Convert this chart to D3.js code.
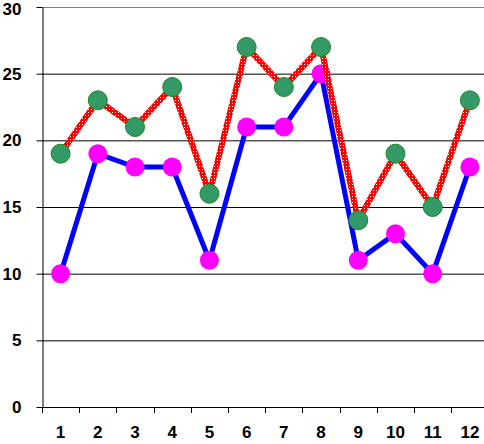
<!DOCTYPE html>
<html>
<head>
<meta charset="utf-8">
<script src="https://cdn.jsdelivr.net/npm/d3@7"></script>
<style>
	body { margin: 0; background: #fff; }
	svg { display: block; }
	.tick text { font-family: 'Liberation Sans', Arial, sans-serif; font-weight: bold; font-size: 17px; }
</style>
</head>
<body>
<div id="chart"></div>
<script>
const months = [1, 2, 3, 4, 5, 6, 7, 8, 9, 10, 11, 12]
const greenSeries = [19, 23, 21, 24, 16, 27, 24, 27, 14, 19, 15, 23]
const pinkSeries = [10, 19, 18, 18, 11, 21, 21, 25, 11, 13, 10, 18]
const yTicks = [0, 5, 10, 15, 20, 25, 30]

const width = 484
const height = 444
const plotLeft = 42
const plotTop = 7
const plotBottom = 407
const plotRight = 488.5

const svg = d3
	.select('#chart')
	.append('svg')
	.attr('width', width)
	.attr('height', height)

// red line with white dot texture
const pattern = svg.append('defs')
	.append('pattern')
	.attr('id', 'dots')
	.attr('patternUnits', 'userSpaceOnUse')
	.attr('width', 3)
	.attr('height', 3)
pattern.append('rect').attr('width', 3).attr('height', 3).attr('fill', '#ff0000')
pattern.append('rect').attr('x', 1).attr('y', 1).attr('width', 1).attr('height', 1).attr('fill', '#ffffff')

const x = d3.scaleBand().domain(months).range([plotLeft, plotRight]).padding(0)
const y = d3.scaleLinear().domain([0, 30]).range([plotBottom, plotTop])
const cx = d => x(d) + x.bandwidth() / 2

// gridlines
svg.append('g')
	.selectAll('line')
	.data(yTicks.filter(t => t > 0 && t < 30))
	.enter()
	.append('line')
	.attr('x1', plotLeft)
	.attr('x2', width)
	.attr('y1', d => y(d) + 0.5)
	.attr('y2', d => y(d) + 0.5)
	.attr('stroke', '#000')

// plot border top
svg.append('line')
	.attr('x1', plotLeft)
	.attr('x2', width)
	.attr('y1', y(30) + 0.5)
	.attr('y2', y(30) + 0.5)
	.attr('stroke', '#808080')

// axes
const yAxis = svg.append('g')
	.attr('transform', `translate(${plotLeft + 0.5},0)`)
	.call(d3.axisLeft(y).tickValues(yTicks).tickSize(6).tickPadding(15).tickSizeOuter(0))
yAxis.select('.domain').attr('stroke', '#000')
yAxis.selectAll('.tick text').attr('fill', '#000')
// top label sits a little lower, against the window edge
yAxis.selectAll('.tick text').filter(d => d === 30).attr('y', 2)

const xAxis = svg.append('g')
	.attr('transform', `translate(0,${plotBottom + 0.5})`)
	.call(d3.axisBottom(x).tickSize(0).tickPadding(18).tickSizeOuter(0))
xAxis.select('.domain').remove()
xAxis.selectAll('.tick text').attr('fill', '#000').attr('dy', '0.71em')

svg.append('line')
	.attr('x1', plotLeft)
	.attr('x2', width)
	.attr('y1', plotBottom + 0.5)
	.attr('y2', plotBottom + 0.5)
	.attr('stroke', '#000')

// category separators on x axis
svg.append('g')
	.selectAll('line')
	.data(months)
	.enter()
	.append('line')
	.attr('x1', d => Math.round(x(d)) + 0.5)
	.attr('x2', d => Math.round(x(d)) + 0.5)
	.attr('y1', plotBottom)
	.attr('y2', plotBottom + 6)
	.attr('stroke', '#000')

const line = d3.line().x((d, i) => cx(months[i])).y(d => y(d))

// blue series
svg.append('path')
	.datum(pinkSeries)
	.attr('d', line)
	.attr('fill', 'none')
	.attr('stroke', '#0000ff')
	.attr('stroke-width', 5)

svg.append('g')
	.selectAll('circle')
	.data(pinkSeries)
	.enter()
	.append('circle')
	.attr('cx', (d, i) => cx(months[i]))
	.attr('cy', d => y(d))
	.attr('r', 9.5)
	.attr('fill', '#ff00ff')

// red dotted series
svg.append('path')
	.datum(greenSeries)
	.attr('d', line)
	.attr('fill', 'none')
	.attr('stroke', 'url(#dots)')
	.attr('stroke-width', 6)

svg.append('g')
	.selectAll('circle')
	.data(greenSeries)
	.enter()
	.append('circle')
	.attr('cx', (d, i) => cx(months[i]))
	.attr('cy', d => y(d))
	.attr('r', 9.5)
	.attr('fill', '#339966')
	.attr('stroke', '#1f8a1f')
	.attr('stroke-width', 1)
</script>
</body>
</html>
